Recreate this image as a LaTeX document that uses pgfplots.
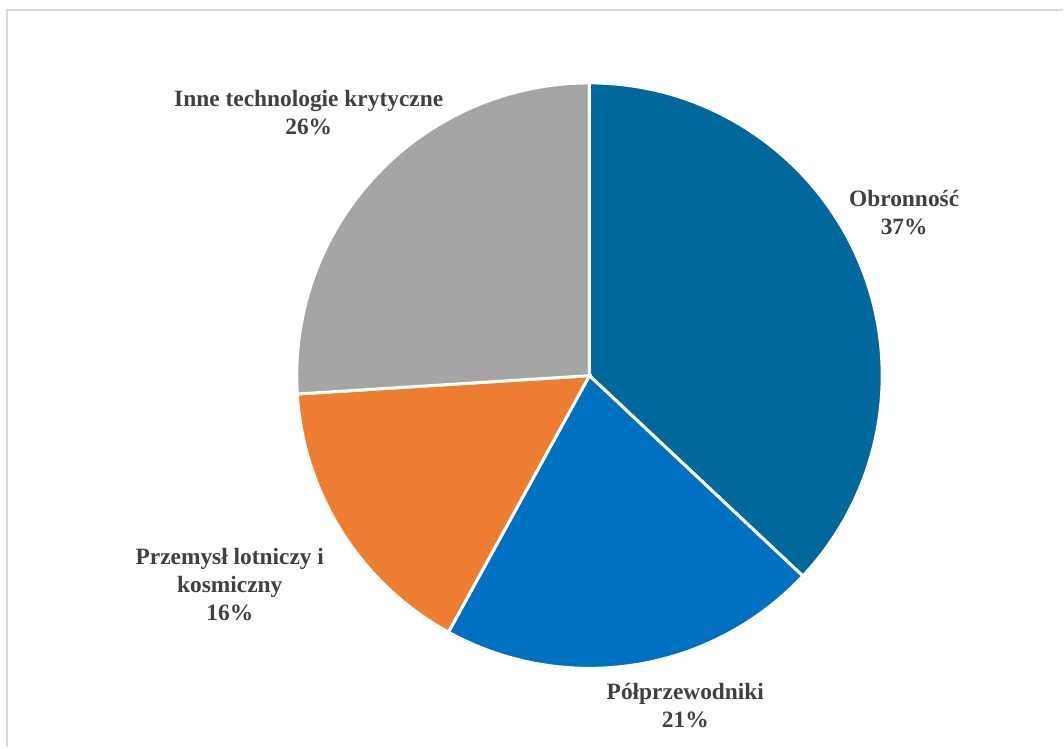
\documentclass[border=0pt]{standalone}
\usepackage{pgfplots}
\usepackage{pgfplotstable}
\pgfplotsset{compat=1.18}
\usepackage{fontspec}
\setmainfont{Liberation Serif}
\definecolor{cObr}{HTML}{00689A}
\definecolor{cPol}{HTML}{0070C0}
\definecolor{cPrz}{HTML}{ED7D31}
\definecolor{cInn}{HTML}{A5A5A5}
\definecolor{cTxt}{HTML}{404040}
\definecolor{cBrd}{HTML}{D9D9D9}
\pgfplotstableread{
idx value
0 37
1 21
2 16
3 26
}\piedata
\begin{document}
\begin{tikzpicture}
\pgfplotstablegetelem{0}{value}\of\piedata \let\vA\pgfplotsretval
\pgfplotstablegetelem{1}{value}\of\piedata \let\vB\pgfplotsretval
\pgfplotstablegetelem{2}{value}\of\piedata \let\vC\pgfplotsretval
\pgfplotstablegetelem{3}{value}\of\piedata \let\vD\pgfplotsretval
\pgfmathsetmacro\aA{90}
\pgfmathsetmacro\aB{\aA-3.6*\vA}
\pgfmathsetmacro\aC{\aB-3.6*\vB}
\pgfmathsetmacro\aD{\aC-3.6*\vC}
\pgfmathsetmacro\aE{\aD-3.6*\vD}
\begin{axis}[
  width=1064bp, height=748bp, scale only axis,
  xmin=0, xmax=1064, ymin=0, ymax=748,
  hide axis, clip=false,
]
\fill[white] (axis cs:0,0) rectangle (axis cs:1064,748);
\draw[cBrd, line width=2bp] (axis cs:7,0) -- (axis cs:7,738) -- (axis cs:1064,738);
\def\R{293bp}
\fill[cObr, draw=white, line width=3bp] (axis cs:590,372) -- ++(\aA:\R) arc[start angle=\aA, end angle=\aB, radius=\R] -- cycle;
\fill[cPol, draw=white, line width=3bp] (axis cs:590,372) -- ++(\aB:\R) arc[start angle=\aB, end angle=\aC, radius=\R] -- cycle;
\fill[cPrz, draw=white, line width=3bp] (axis cs:590,372) -- ++(\aC:\R) arc[start angle=\aC, end angle=\aD, radius=\R] -- cycle;
\fill[cInn, draw=white, line width=3bp] (axis cs:590,372) -- ++(\aD:\R) arc[start angle=\aD, end angle=\aE, radius=\R] -- cycle;
\tikzset{lbl/.style={align=center, text=cTxt, inner sep=0pt, font=\fontsize{23.5}{28}\selectfont\bfseries}}
\node[lbl] at (axis cs:309,635) {Inne technologie krytyczne\\\vD\%};
\node[lbl] at (axis cs:905,535) {Obronność\\\vA\%};
\node[lbl] at (axis cs:686,42) {Półprzewodniki\\\vB\%};
\node[lbl] at (axis cs:230,163) {Przemysł lotniczy i\\kosmiczny\\\vC\%};
\end{axis}
\end{tikzpicture}
\end{document}
